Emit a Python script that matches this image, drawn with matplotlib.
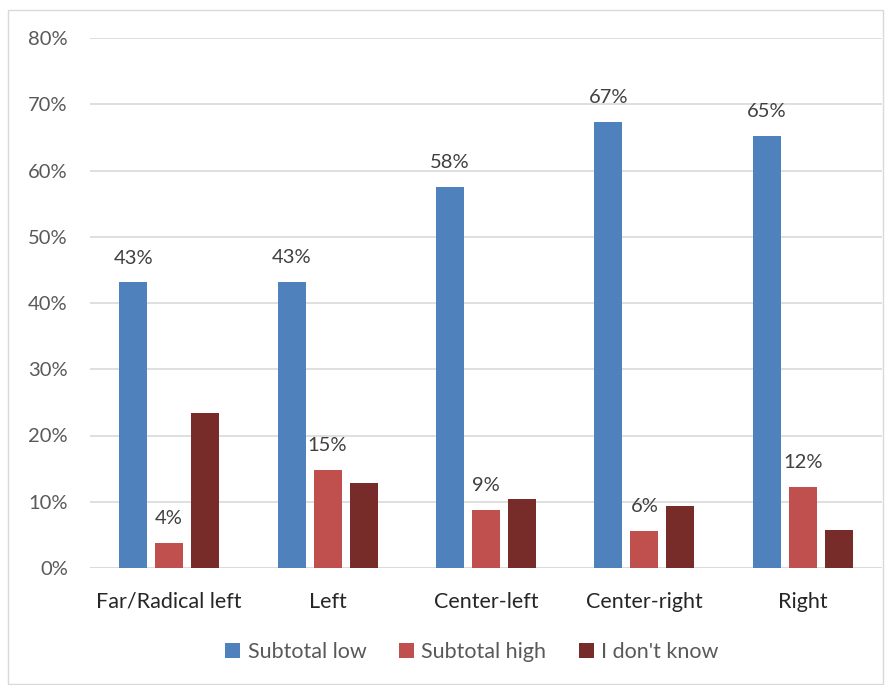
import matplotlib
matplotlib.use("Agg")
import matplotlib.pyplot as plt
import numpy as np
from matplotlib.patches import Rectangle

categories = ["Far/Radical left", "Left", "Center-left", "Center-right", "Right"]
subtotal_low = [0.431, 0.432, 0.575, 0.673, 0.652]
subtotal_high = [0.038, 0.148, 0.087, 0.056, 0.123]
dont_know = [0.234, 0.129, 0.104, 0.093, 0.057]
low_labels = ["43%", "43%", "58%", "67%", "65%"]
high_labels = ["4%", "15%", "9%", "6%", "12%"]
yticks = [0, 0.1, 0.2, 0.3, 0.4, 0.5, 0.6, 0.7, 0.8]
ytick_labels = ["0%", "10%", "20%", "30%", "40%", "50%", "60%", "70%", "80%"]

plt.rcParams['font.family'] = ['Lato', 'DejaVu Sans']

fig = plt.figure(figsize=(8.85, 6.85), dpi=100)
fig.patches.append(Rectangle((8/885, 1/685), 875/885, 674/685, transform=fig.transFigure,
                             fill=False, edgecolor="#d9d9d9", linewidth=1))
ax = fig.add_axes([90/885, 1-568/685, 792/885, 530/685])

x = np.arange(len(categories))
w = 0.177
off = 0.227
colors = ["#4F81BD", "#C0504D", "#772C2A"]
b1 = ax.bar(x - off, subtotal_low, w, color=colors[0], label="Subtotal low", zorder=3)
b2 = ax.bar(x, subtotal_high, w, color=colors[1], label="Subtotal high", zorder=3)
b3 = ax.bar(x + off, dont_know, w, color=colors[2], label="I don't know", zorder=3)

for xi, v, t in zip(x - off, subtotal_low, low_labels):
    ax.text(xi, v + 0.024, t, ha="center", va="bottom", fontsize=14.5, color="#404040")
for xi, v, t in zip(x, subtotal_high, high_labels):
    ax.text(xi, v + 0.024, t, ha="center", va="bottom", fontsize=14.5, color="#404040")

ax.set_xlim(-0.5, 4.5)
ax.set_ylim(0, 0.8)
ax.set_yticks(yticks)
ax.set_yticklabels(ytick_labels, fontsize=14.5, color="#595959")
ax.set_xticks(x)
ax.set_xticklabels(categories, fontsize=15.5, color="#262626")
ax.tick_params(axis="both", length=0)
ax.tick_params(axis="y", pad=16)
ax.tick_params(axis="x", pad=17)
ax.grid(axis="y", color="#d9d9d9", linewidth=1.2, zorder=0)
for s in ax.spines.values():
    s.set_visible(False)
ax.axhline(0, color="#d9d9d9", linewidth=1.2, zorder=2)

leg = fig.legend(handles=[b1, b2, b3], loc="center", bbox_to_anchor=(472/885, 1-652/685),
                 ncol=3, frameon=False, fontsize=15.5, handlelength=0.7, handleheight=0.7,
                 handletextpad=0.35, columnspacing=1.5)
for t in leg.get_texts():
    t.set_color("#595959")

fig.savefig("out.png", dpi=100)
